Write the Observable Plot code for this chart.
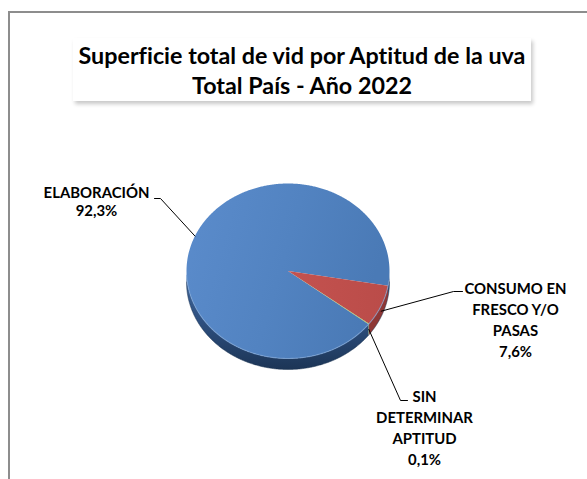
<!DOCTYPE html>
<html><head><meta charset="utf-8">
<script src="https://cdn.jsdelivr.net/npm/d3@7"></script>
<script src="https://cdn.jsdelivr.net/npm/@observablehq/plot@0.6"></script>
<style>
body{margin:0;background:#fff;}
#wrap{position:relative;width:587px;height:479px;overflow:hidden;background:#fff;font-family:Lato,"Open Sans",sans-serif;font-variant-ligatures:none;}
#frame{position:absolute;left:8px;top:11px;width:700px;height:600px;border-left:2px solid #8d8d8d;border-top:2px solid #8d8d8d;pointer-events:none;z-index:5;}
#header{position:relative;height:110px;}
#title{position:absolute;left:73px;top:38px;width:458px;height:63px;background:#fff;box-shadow:2px 3px 4px rgba(0,0,0,0.22);text-align:center;font-weight:700;color:#000;box-sizing:border-box;padding-top:1.5px;}
#title div{line-height:30px;white-space:nowrap;}
#chart svg{display:block;background:transparent;font-variant-ligatures:none;}
</style></head><body>
<div id="wrap"><div id="frame"></div><div id="header"><div id="title"></div></div><div id="chart"></div></div>
<script>
// ---- data ----
const titleLines = ["Superficie total de vid por Aptitud de la uva", "Total País - Año 2022"];
const categories = ["ELABORACIÓN", "CONSUMO EN FRESCO Y/O PASAS", "SIN DETERMINAR APTITUD"];
const labelLines = [["ELABORACIÓN"], ["CONSUMO EN", "FRESCO Y/O", "PASAS"], ["SIN", "DETERMINAR", "APTITUD"]];
const percents = [92.3, 7.6, 0.1];
const percentLabels = ["92,3%", "7,6%", "0,1%"];

// ---- style / layout ----
const topFills = ["url(#gTop0)", "url(#gTop1)", "#9BBB59"];
const sideFills = ["url(#gSide0)", "#8E3735", "#6E8A3C"];
const W = 587, H = 369, OFFY = 110;
const CX = 287.5, CY = 160.5, RX = 101.5, RY = 87.5, DEPTH = 11;
const START = 127.4 * Math.PI / 180;
const FONT = "Lato, 'Open Sans', sans-serif";
const toX = px => (px - CX) / RX, toY = py => (py - OFFY - CY) / RY;
const labelLayout = [
  {x: 96, y: 197, lh: 18.5, line: [[154, 198], [160, 198]]},
  {x: 515, y: 293, lh: 21, line: [[462, 291], [453, 291]]},
  {x: 424, y: 401, lh: 21, line: [[407, 400], [400, 400]]}
];

// font sizes measured to match reference widths
const ctx = document.createElement("canvas").getContext("2d");
function measure(t, fs) { ctx.font = `bold ${fs}px ${FONT}`; return ctx.measureText(t).width; }
const titleFS = 20 * 449 / measure(titleLines[0], 20);
const targets = [["ELABORACIÓN", 105], ["CONSUMO EN", 100], ["DETERMINAR", 86]];
const FS = 1.05 * 16 * d3.mean(targets, ([t, w]) => w / measure(t, 16));

const title = document.getElementById("title");
title.style.fontSize = titleFS + "px";
title.style.fontFamily = FONT;
titleLines.forEach(t => { const d = document.createElement("div"); d.textContent = t; title.appendChild(d); });

// ---- geometry from data ----
const arcs = d3.pie().sort(null).startAngle(START).endAngle(START + 2 * Math.PI)(percents);
const step = Math.PI / 360;
function arcPts(a0, a1) {
  const n = Math.max(2, Math.ceil((a1 - a0) / step));
  return d3.range(n + 1).map(i => { const t = a0 + (a1 - a0) * i / n; return [Math.sin(t), -Math.cos(t)]; });
}
const D = DEPTH / RY;
const topRows = arcs.map((a, i) => [[0, 0], ...arcPts(a.startAngle, a.endAngle), [0, 0]].map(([x, y]) => ({x, y})));
const sideRows = arcs.map((a) => {
  const rows = [];
  for (const k of [-1, 0, 1]) {
    const lo = Math.max(a.startAngle, Math.PI / 2 + 2 * k * Math.PI);
    const hi = Math.min(a.endAngle, 3 * Math.PI / 2 + 2 * k * Math.PI);
    if (hi > lo) {
      const top = arcPts(lo, hi);
      const bot = top.map(([x, y]) => [x, y + D]).reverse();
      [...top, ...bot, top[0]].forEach(([x, y]) => rows.push({x, y, id: k}));
    }
  }
  return rows;
});
const bottomRim = arcPts(Math.PI / 2, 3 * Math.PI / 2).map(([x, y]) => ({x, y: y + D}));
const frontRim = arcPts(Math.PI / 2 + 0.15, 3 * Math.PI / 2 - 0.05).map(([x, y]) => ({x, y}));

const leaderRows = arcs.map((a, i) => {
  const m = (a.startAngle + a.endAngle) / 2;
  let ex = Math.sin(m), ey = -Math.cos(m);
  if (ey > 0) ey += D / 2;
  const L = labelLayout[i];
  return [...L.line.map(([px, py]) => ({x: toX(px), y: toY(py)})), {x: ex, y: ey}];
});
const textRows = labelLines.flatMap((lines, i) => {
  const L = labelLayout[i];
  return [...lines, percentLabels[i]].map((text, j) => ({text, x: toX(L.x), y: toY(L.y + j * L.lh - 0.32 * FS)}));
});

const marks = [];
sideRows.forEach((rows, i) => marks.push(Plot.line(rows, {x: "x", y: "y", z: "id", fill: sideFills[i], stroke: "none", curve: "linear"})));
marks.push(Plot.line(bottomRim, {x: "x", y: "y", stroke: "#1a3250", strokeWidth: 1, strokeOpacity: 0.5}));
topRows.forEach((rows, i) => marks.push(Plot.line(rows, {x: "x", y: "y", fill: topFills[i], stroke: "none"})));
marks.push(Plot.line(frontRim, {x: "x", y: "y", stroke: "#7fa6d8", strokeWidth: 1.2, strokeOpacity: 0.6}));
leaderRows.forEach(rows => marks.push(Plot.line(rows, {x: "x", y: "y", stroke: "#000", strokeWidth: 1})));
marks.push(Plot.text(textRows, {x: "x", y: "y", text: "text", fontSize: FS, fontWeight: "bold", fontFamily: FONT, fill: "#000", textAnchor: "middle", lineAnchor: "middle"}));

const svg = Plot.plot({
  width: W, height: H,
  margin: 0,
  x: {domain: [toX(0), toX(W)], axis: null},
  y: {domain: [toY(OFFY + H), toY(OFFY)], axis: null},
  style: {background: "transparent", overflow: "visible"},
  marks
});

const defs = d3.select(svg).insert("defs", ":first-child");
function lin(id, stops, x2 = 1, y2 = 0) {
  const g = defs.append("linearGradient").attr("id", id).attr("x1", 0).attr("y1", 0).attr("x2", x2).attr("y2", y2);
  stops.forEach(([o, c]) => g.append("stop").attr("offset", o).attr("stop-color", c));
}
lin("gTop0", [[0, "#5B8CCC"], [0.55, "#5283C1"], [1, "#4A7AB6"]], 1, 0.25);
lin("gTop1", [[0, "#C4524F"], [1, "#BA4C49"]]);
lin("gSide0", [[0, "#44699A"], [0.5, "#2E5080"], [1, "#1C3556"]], 0, 1);

document.getElementById("chart").appendChild(svg);
</script>
</body></html>
